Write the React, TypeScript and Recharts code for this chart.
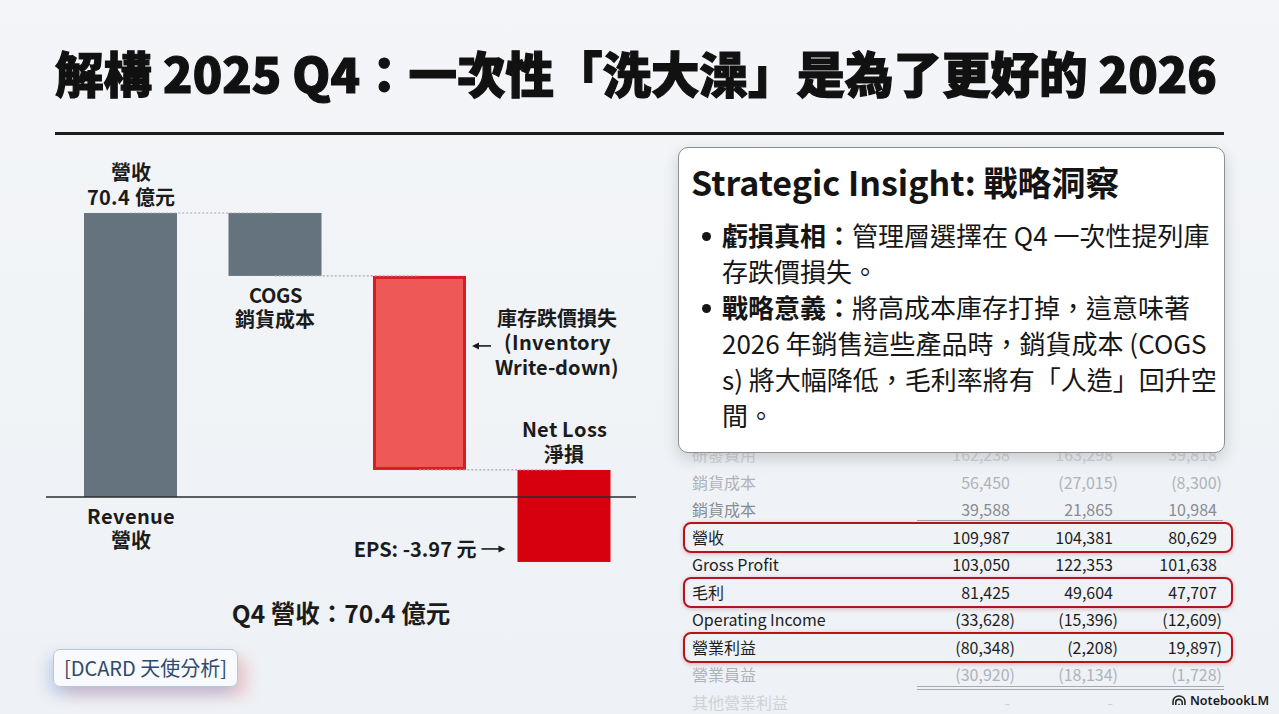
import React from 'react';
import { ComposedChart, Bar, XAxis, YAxis, ReferenceLine } from 'recharts';

const FONT = '"Noto Sans CJK TC", "Noto Sans", sans-serif';
const LABEL_FONT = '"LblCJK", "Noto Sans CJK TC", "Noto Sans", sans-serif';

// ---------- Waterfall data (億元) ----------
const categories = ['Revenue', 'COGS', 'Inventory Write-down', 'Net Loss'];
const barLow = [0, 54.8, 6.7, -16.1];
const barHigh = [70.4, 70.4, 54.8, 6.7];
const labelsAbove = [['營收', '70.4 億元'], [], [], ['Net Loss', '淨損']];
const labelsBelow = [['Revenue', '營收'], ['COGS', '銷貨成本'], [], []];
const labelsSide = [[], [], ['庫存跌價損失', '(Inventory', 'Write-down)'], []];
const epsLabel = 'EPS: -3.97 元';
const summaryText = 'Q4 營收：70.4 億元';

// ---------- Title / insight ----------
const titleText = '解構 2025 Q4：一次性「洗大澡」是為了更好的 2026';
const insightTitle = 'Strategic Insight: 戰略洞察';
const bulletHeads = ['虧損真相：', '戰略意義：'];
const bulletLines = [
  ['管理層選擇在 Q4 一次性提列庫', '存跌價損失。'],
  ['將高成本庫存打掉，這意味著', '2026 年銷售這些產品時，銷貨成本 (COGS', 's) 將大幅降低，毛利率將有「人造」回升空', '間。'],
];
const badgeText = '[DCARD 天使分析]';

// ---------- Table ----------
const tableLabels = ['研發費用', '銷貨成本', '銷貨成本', '營收', 'Gross Profit', '毛利', 'Operating Income', '營業利益', '營業員益', '其他營業利益'];
const colA = ['162,238', '56,450', '39,588', '109,987', '103,050', '81,425', '(33,628)', '(80,348)', '(30,920)', '-'];
const colB = ['163,298', '(27,015)', '21,865', '104,381', '122,353', '49,604', '(15,396)', '(2,208)', '(18,134)', '-'];
const colC = ['39,818', '(8,300)', '10,984', '80,629', '101,638', '47,707', '(12,609)', '19,897)', '(1,728)', ''];
const rowTier = ['ghost', 'faint', 'muted', 'strong', 'strong', 'strong', 'strong', 'strong', 'faint', 'ghost'];
const rowBoxed = [false, false, false, true, false, true, false, true, false, false];

const tierColor: Record<string, string> = {
  ghost: '#cfd3d8',
  faint: '#aeb3b9',
  muted: '#878c93',
  strong: '#1d1d1d',
};

const chartData = categories.map((name, i) => ({ name, range: [barLow[i], barHigh[i]] }));

const GRAY = '#65737f';
const TXT = '#1b1b1b';

const fontFaceCss = `
@font-face { font-family: 'LblCJK'; src: local('Noto Sans CJK TC Bold'), local('NotoSansCJKtc-Bold'), local('Noto Sans CJK TC'); font-weight: 700; ascent-override: 94%; descent-override: 22%; line-gap-override: 0%; }
`;

const labelStyle = { fontFamily: FONT, fontWeight: 700, fontSize: 20, fill: TXT };

// One block of text with several lines (a single text element)
const HtmlLabel = ({ cx, firstY, lines, step, w = 220 }: any) => (
  <foreignObject x={cx - w / 2} y={firstY - step / 2 + 1.2} width={w} height={lines.length * step + 4}>
    <div style={{ fontFamily: LABEL_FONT, fontWeight: 700, fontSize: 20, lineHeight: step + 'px', color: TXT, textAlign: 'center', whiteSpace: 'nowrap' }}>
      {lines.map((t: string, k: number) => (
        <React.Fragment key={k}>{k > 0 && <br />}{t}</React.Fragment>
      ))}
    </div>
  </foreignObject>
);

const WaterfallShape = (props: any) => {
  const { x, y, width, height, index } = props;
  const top = Math.min(y, y + height);
  const bottom = Math.max(y, y + height);
  const h = Math.abs(height);
  const cx = x + width / 2;
  const els: any[] = [];
  if (index === 0 || index === 1) {
    els.push(<rect key="r" x={x} y={top} width={width} height={h} fill={GRAY} />);
  } else if (index === 2) {
    els.push(<rect key="r" x={x + 1.5} y={top + 1.5} width={width - 3} height={h - 3} fill="#ee5856" stroke="#d81c23" strokeWidth={3} />);
  } else {
    els.push(<rect key="r" x={x} y={top} width={width} height={h} fill="#d6000f" />);
  }
  const above = labelsAbove[index] || [];
  if (above.length) {
    els.push(<HtmlLabel key="a" cx={cx} firstY={top - 16 - (above.length - 1) * 25.5} lines={above} step={25.5} />);
  }
  const below = labelsBelow[index] || [];
  if (below.length) {
    els.push(<HtmlLabel key="b" cx={cx} firstY={bottom + 19} lines={below} step={24.5} />);
  }
  const side = labelsSide[index] || [];
  if (side.length) {
    const sx = x + width + 91;
    els.push(<HtmlLabel key="s" cx={sx} firstY={top + 42} lines={side} step={24.5} w={150} />);
    const ay = top + 70;
    const ax = x + width + 6;
    els.push(<line key="al" x1={ax + 4} y1={ay} x2={ax + 19} y2={ay} stroke={TXT} strokeWidth={1.6} />);
    els.push(<polygon key="ah" points={`${ax},${ay} ${ax + 7},${ay - 3.5} ${ax + 7},${ay + 3.5}`} fill={TXT} />);
  }
  if (index === 3) {
    const ey = bottom - 13;
    const ex = x - 12;
    els.push(<text key="eps" x={ex - 29} y={ey} textAnchor="end" dominantBaseline="central" style={labelStyle}>{epsLabel}</text>);
    els.push(<line key="el" x1={ex - 24} y1={ey} x2={ex - 4} y2={ey} stroke={TXT} strokeWidth={1.6} />);
    els.push(<polygon key="eh" points={`${ex},${ey} ${ex - 7},${ey - 3.5} ${ex - 7},${ey + 3.5}`} fill={TXT} />);
  }
  return <g>{els}</g>;
};

const NotebookIcon = () => (
  <svg width="14" height="11" viewBox="0 0 15 12" style={{ marginRight: 4 }}>
    <path d="M1 11 V7 A6.5 6 0 0 1 14 7 V11" fill="none" stroke="#222" strokeWidth="1.7" />
    <path d="M4 11 V8 A3.5 3.2 0 0 1 11 8 V11" fill="none" stroke="#222" strokeWidth="1.7" />
    <path d="M7.5 11 V9.5" fill="none" stroke="#222" strokeWidth="1.7" />
  </svg>
);

export default function App() {
  const rowCenter = (i: number) => 454 + i * 27.55;
  const cols = [colA, colB, colC];
  const colRight = [1010, 1113, 1217];
  return (
    <div style={{ position: 'absolute', left: 0, top: 0, width: 1279, height: 714, overflow: 'hidden', background: 'linear-gradient(180deg, #f3f5f8 0%, #eef1f5 100%)', fontFamily: FONT }}>
      <style>{fontFaceCss}</style>
      {/* Title */}
      <div style={{ position: 'absolute', left: 55, top: 44, width: 1175, fontSize: 48.5, fontWeight: 900, lineHeight: '56px', color: '#111', whiteSpace: 'nowrap', WebkitTextStroke: '1.2px #111' }}>{titleText}</div>
      <div style={{ position: 'absolute', left: 55, top: 132, width: 1169, height: 2.5, background: '#1c1c1c' }} />

      {/* Waterfall chart */}
      <div style={{ position: 'absolute', left: 0, top: 0 }}>
        <ComposedChart width={680} height={714} data={chartData} margin={{ top: 194.44, right: 44, bottom: 136.32, left: 46 }}>
          <XAxis dataKey="name" hide padding={{ left: 12, right: 0 }} />
          <YAxis hide type="number" domain={[-20, 75]} />
          {categories.slice(0, -1).map((c, i) => (
            <ReferenceLine key={c} segment={[{ x: c, y: barHigh[i + 1] }, { x: categories[i + 1], y: barHigh[i + 1] }]} stroke="#a3a8ad" strokeWidth={1.2} strokeDasharray="2 2" />
          ))}
          <Bar dataKey="range" barSize={93} isAnimationActive={false} shape={WaterfallShape} />
          <ReferenceLine y={0} stroke="#2b2b2b" strokeWidth={1.6} />
        </ComposedChart>
      </div>

      <div style={{ position: 'absolute', left: 191, top: 597, width: 300, textAlign: 'center', fontSize: 24.5, fontWeight: 700, lineHeight: '32px', color: TXT, whiteSpace: 'nowrap' }}>{summaryText}</div>

      {/* Badge */}
      <div style={{ position: 'absolute', left: 53, top: 649, width: 185, height: 38, boxSizing: 'border-box', border: '1px solid #b9c6d6', borderRadius: 7, background: 'rgba(248,250,253,0.95)', boxShadow: '-5px 7px 14px rgba(90,140,220,0.30), 10px 9px 14px rgba(230,110,110,0.28)', color: '#2f4a6a', fontSize: 20, lineHeight: '36px', textAlign: 'center', whiteSpace: 'nowrap' }}>{badgeText}</div>

      {/* Table */}
      {tableLabels.map((lab, i) => {
        const cy = rowCenter(i);
        const color = tierColor[rowTier[i]];
        return (
          <React.Fragment key={'row' + i}>
            {rowBoxed[i] && (
              <div style={{ position: 'absolute', left: 683, top: cy - 14.5, width: 550, height: 30.5, boxSizing: 'border-box', border: '2.5px solid #b3141d', borderRadius: 8, boxShadow: '0 1px 4px rgba(160,0,0,0.25)' }} />
            )}
            <div style={{ position: 'absolute', left: 692, top: cy - 12, height: 24, lineHeight: '24px', fontSize: 16, color, whiteSpace: 'nowrap' }}>{lab}</div>
            {cols.map((col, j) => {
              const v = col[i];
              const hang = v.endsWith(')');
              return (
                <div key={j} style={{ position: 'absolute', right: 1279 - colRight[j] - (hang ? 5 : 0), top: cy - 12, height: 24, lineHeight: '24px', fontSize: 16, color, whiteSpace: 'nowrap', textAlign: 'right' }}>{v}</div>
              );
            })}
          </React.Fragment>
        );
      })}
      <div style={{ position: 'absolute', left: 917, top: 519.5, width: 306, height: 1.8, background: '#9ea3a8' }} />
      <div style={{ position: 'absolute', left: 917, top: 685.5, width: 307, height: 1.2, background: '#a6aaaf' }} />
      <div style={{ position: 'absolute', left: 917, top: 688.5, width: 307, height: 1.2, background: '#a6aaaf' }} />

      {/* Insight box */}
      <div style={{ position: 'absolute', left: 678, top: 147, width: 547, height: 306, boxSizing: 'border-box', border: '1.5px solid #8d8f92', borderRadius: 10, background: '#fff', boxShadow: '0 6px 16px rgba(0,0,0,0.16)' }}>
        <div style={{ position: 'absolute', left: 12, top: 13, fontSize: 34, fontWeight: 700, lineHeight: '42px', color: '#141414', whiteSpace: 'nowrap' }}>{insightTitle}</div>
        {(() => {
          const out: any[] = [];
          let line = 0;
          bulletHeads.forEach((head, b) => {
            bulletLines[b].forEach((t, k) => {
              const cy = 234 - 147 + line * 36;
              out.push(
                <div key={b + '-' + k} style={{ position: 'absolute', left: 43, top: cy - 18, height: 36, lineHeight: '36px', fontSize: 26, color: '#161616', whiteSpace: 'nowrap' }}>
                  {k === 0 && <span style={{ fontWeight: 700 }}>{head}</span>}
                  {t}
                </div>
              );
              if (k === 0) {
                out.push(<div key={'dot' + b} style={{ position: 'absolute', left: 23, top: cy - 3.5, width: 9, height: 9, borderRadius: 5, background: '#161616' }} />);
              }
              line++;
            });
          });
          return out;
        })()}
      </div>

      {/* NotebookLM mark */}
      <div style={{ position: 'absolute', right: 10, top: 692, height: 17, display: 'flex', alignItems: 'center', fontFamily: '"Noto Sans", sans-serif', fontSize: 12.5, fontWeight: 600, color: '#1a1a1a', whiteSpace: 'nowrap' }}>
        <NotebookIcon />NotebookLM
      </div>
    </div>
  );
}
